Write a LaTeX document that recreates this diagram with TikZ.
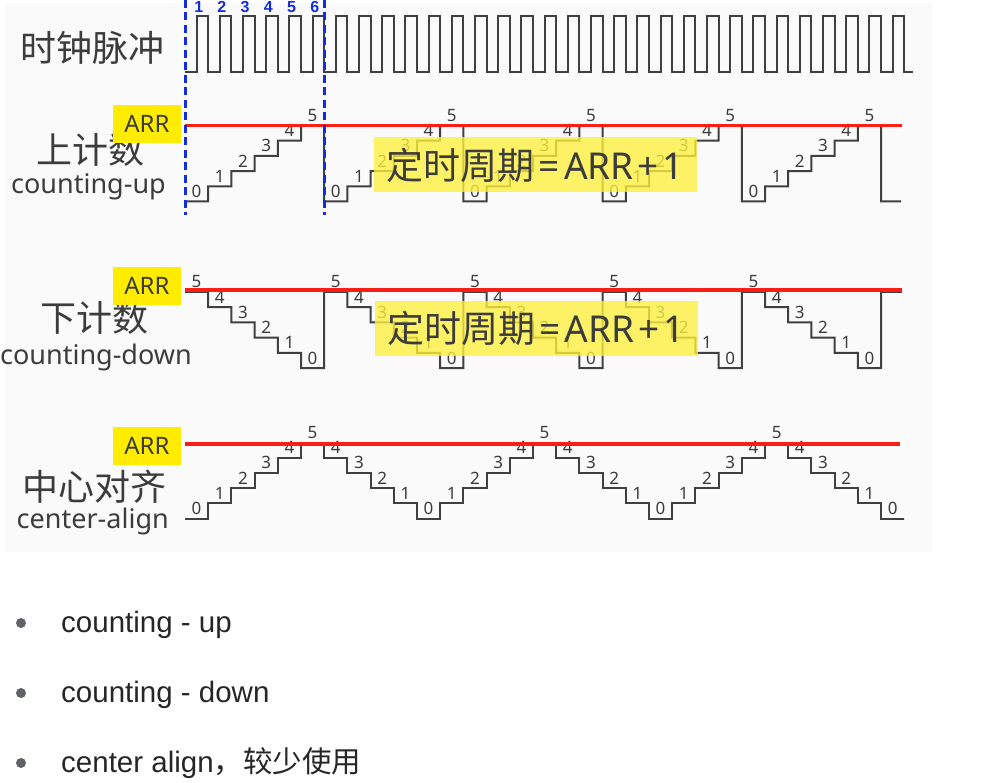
\documentclass[tikz,border=0pt]{standalone}
\usepackage{fontspec}
\setmainfont{Noto Sans}
\newfontfamily\cjk{Noto Sans CJK SC}
\newfontfamily\arialfont{Liberation Sans}
\usepackage{xcolor}
\usepackage{tikz}
\definecolor{ink}{RGB}{60,60,60}
\definecolor{arrred}{RGB}{250,30,20}
\definecolor{arryellow}{RGB}{255,236,0}
\definecolor{hlyellow}{RGB}{255,240,60}
\definecolor{markblue}{RGB}{20,45,220}
\definecolor{dotgray}{RGB}{95,99,104}
\definecolor{bg}{RGB}{250,250,250}

\begin{document}
\begin{tikzpicture}[x=1pt,y=-1pt,every node/.style={inner sep=0pt,text=ink},
  wave/.style={line width=2pt,draw=black!75},
  clk/.style={line width=2pt,draw=black!75},
  arrline/.style={line width=3.5pt,draw=arrred},
  num/.style={font=\fontsize{17}{17}\selectfont,anchor=base},
  tick/.style={font=\arialfont\bfseries\fontsize{16}{16}\selectfont,text=markblue},
  marker/.style={line width=3pt,draw=markblue,dash pattern=on 8pt off 4.5pt},
  arrbox/.style={fill=arryellow,minimum width=68pt,minimum height=38pt,font=\fontsize{24}{24}\selectfont},
  cyclebox/.style={fill=hlyellow,fill opacity=0.78,text opacity=1,minimum width=323pt,minimum height=55pt,font=\fontsize{37}{37}\selectfont},
  title/.style={font=\cjk\fontsize{36}{36}\selectfont},
  sub/.style={font=\fontsize{27}{27}\selectfont,anchor=east},
  item/.style={font=\arialfont\fontsize{29.5}{30}\selectfont,anchor=base west,text=black!85}]
  \useasboundingbox (0,0) rectangle (987,783);
  \fill[bg] (5,3) rectangle (932,552);

  \node[title] (clkname) at (92,48) {时钟脉冲};
  \node[title] (upname) at (90,150) {上计数};
  \node[sub] (upsub) at (166,187) {counting-up};
  \node[title] (downname) at (94,318) {下计数};
  \node[sub] (downsub) at (192,357) {counting-down};
  \node[title] (midname) at (94,487) {中心对齐};
  \node[sub] (midsub) at (169,521) {center-align};

  \draw[clk] (185,72) \foreach \i in {0,...,30}{ -- ({196.6+\i*23.2},72) -- ({196.6+\i*23.2},16) -- ({208.2+\i*23.2},16) -- ({208.2+\i*23.2},72) } -- (913,72);
  \foreach \k in {1,...,6}
    \node[tick] (t\k) at ({175.5+\k*23.2},7) {\k};

  \draw[wave] (185,201.5) \foreach \i in {0,...,29}{ -- ({185+\i*23.2},{201.5-mod(\i,6)*15.2}) -- ({208.2+\i*23.2},{201.5-mod(\i,6)*15.2}) } -- (881,201.5) -- (901,201.5);
  \foreach \i [evaluate=\i as \L using {int(mod(\i,6))}] in {0,...,29}
    \node[num] (u\i) at ({196.6+\i*23.2},{197.5-\L*15.2}) {\L};

  \draw[wave] (185,292) \foreach \i in {0,...,29}{ -- ({185+\i*23.2},{368-(5-mod(\i,6))*15.2}) -- ({208.2+\i*23.2},{368-(5-mod(\i,6))*15.2}) } -- (881,292) -- (902,292);
  \foreach \i [evaluate=\i as \L using {int(5-mod(\i,6))}] in {0,...,29}
    \node[num] (d\i) at ({196.6+\i*23.2},{364-\L*15.2}) {\L};

  \draw[wave] (185,518.5) \foreach \i in {0,...,30}{ -- ({185+\i*23.2},{518.5-(5-abs(mod(\i,10)-5))*15.2}) -- ({208.2+\i*23.2},{518.5-(5-abs(mod(\i,10)-5))*15.2}) } -- (904,518.5);
  \foreach \i [evaluate=\i as \L using {int(5-abs(mod(\i,10)-5))}] in {0,...,30}
    \node[num] (c\i) at ({196.6+\i*23.2},{514.5-\L*15.2}) {\L};

  \draw[arrline] (185,125.5) -- (902,125.5);
  \draw[arrline] (185,290) -- (902,290);
  \draw[arrline] (185,444) -- (900,444);
  \node[arrbox] (arrup) at (147,124) {ARR};
  \node[arrbox] (arrdown) at (147,286) {ARR};
  \node[arrbox] (arrmid) at (147,446) {ARR};

  \draw[marker] (185,0) -- (185,215);
  \draw[marker] (324,0) -- (324,215);

  \node[cyclebox] (cycleup) at (535.5,165) {{\cjk 定时周期}\kern4pt=\kern4pt ARR\kern4pt+\kern4pt1};
  \node[cyclebox] (cycledown) at (536,328.5) {{\cjk 定时周期}\kern4pt=\kern4pt ARR\kern4pt+\kern4pt1};

  \fill[dotgray] (21,623) circle (5);
  \fill[dotgray] (21,693) circle (5);
  \fill[dotgray] (21,763) circle (5);
  \node[item] (itemup) at (61,632) {counting - up};
  \node[item] (itemdown) at (61,702) {counting - down};
  \node[item] (itemmid) at (61,772) {center align{\cjk ，较少使用}};
\end{tikzpicture}
\end{document}
